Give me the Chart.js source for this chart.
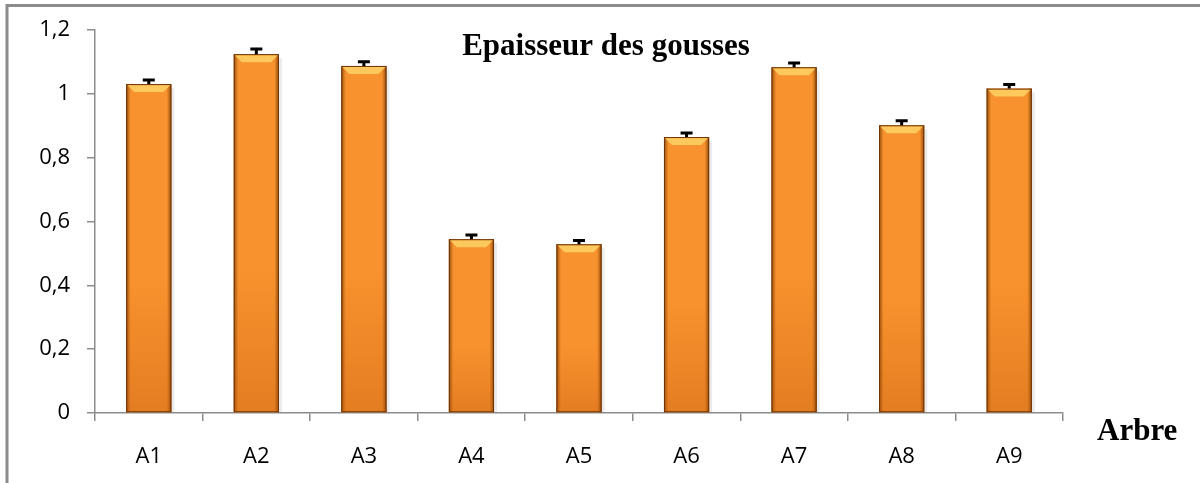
<!doctype html>
<html>
<head>
    <title>Epaisseur des gousses</title>
    <script src="https://cdn.jsdelivr.net/npm/chart.js@4/dist/chart.umd.min.js"></script>
    <style>
        html, body{
            margin: 0px;
            width: 100%;
            height: 100%;
            background: #fff;
        }
        #container{
            width: 1200px;
            height: 483px;
        }
    </style>
</head>
<body>
    <div id="container"><canvas id="canvas"></canvas></div>
    <script>
        var categories = ['A1', 'A2', 'A3', 'A4', 'A5', 'A6', 'A7', 'A8', 'A9'];
        var epaisseur = [1.031, 1.125, 1.088, 0.545, 0.529, 0.865, 1.084, 0.902, 1.017];
        var erreurs = [0.013, 0.016, 0.013, 0.013, 0.012, 0.013, 0.013, 0.014, 0.013];
        var yTicks = [0, 0.2, 0.4, 0.6, 0.8, 1, 1.2];

        var titleText = 'Epaisseur des gousses';
        var xTitleText = 'Arbre';

        var gray = '#8c8c8c';

        // frame round the picture (top and left only are visible)
        var framePlugin = {
            id: 'frame',
            beforeDraw: function(chart){
                var ctx = chart.ctx;
                ctx.save();
                ctx.strokeStyle = gray;
                ctx.lineWidth = 3;
                ctx.beginPath();
                ctx.moveTo(7, 483);
                ctx.lineTo(7, 5.5);
                ctx.lineTo(1200, 5.5);
                ctx.stroke();
                ctx.restore();
            }
        };

        // 3d look of the bars + error bars
        var barsPlugin = {
            id: 'barsLook',
            afterDatasetsDraw: function(chart){
                var ctx = chart.ctx;
                var meta = chart.getDatasetMeta(0);
                var yScale = chart.scales.y;
                ctx.save();
                meta.data.forEach(function(bar, i){
                    var left = bar.x - bar.width / 2;
                    var right = bar.x + bar.width / 2;
                    var top = bar.y;
                    var bottom = bar.base;

                    // soft shadow on the right
                    ctx.fillStyle = 'rgba(0,0,0,0.08)';
                    ctx.fillRect(right, top + 4, 3, bottom - top - 4);

                    // side shading
                    var g = ctx.createLinearGradient(left, 0, right, 0);
                    g.addColorStop(0, 'rgba(110,50,0,0.7)');
                    g.addColorStop(0.1, 'rgba(120,55,0,0.0)');
                    g.addColorStop(0.9, 'rgba(120,55,0,0.0)');
                    g.addColorStop(1, 'rgba(110,50,0,0.75)');
                    ctx.fillStyle = g;
                    ctx.fillRect(left, top, right - left, bottom - top);

                    // darker bottom
                    var gb = ctx.createLinearGradient(0, top, 0, bottom);
                    gb.addColorStop(0, 'rgba(200,90,10,0)');
                    gb.addColorStop(0.6, 'rgba(200,90,10,0)');
                    gb.addColorStop(1, 'rgba(190,85,10,0.35)');
                    ctx.fillStyle = gb;
                    ctx.fillRect(left, top, right - left, bottom - top);

                    // light bevel on top
                    ctx.fillStyle = 'rgba(255,210,100,0.85)';
                    ctx.beginPath();
                    ctx.moveTo(left + 1, top + 1);
                    ctx.lineTo(right - 1, top + 1);
                    ctx.lineTo(right - 8, top + 8);
                    ctx.lineTo(left + 8, top + 8);
                    ctx.closePath();
                    ctx.fill();

                    // outline
                    ctx.strokeStyle = '#6e3406';
                    ctx.lineWidth = 1;
                    ctx.strokeRect(left + 0.5, top + 0.5, right - left - 1, bottom - top - 1);

                    // error bar
                    var yErr = yScale.getPixelForValue(epaisseur[i] + erreurs[i]);
                    ctx.strokeStyle = '#000';
                    ctx.lineWidth = 3;
                    ctx.beginPath();
                    ctx.moveTo(bar.x, top);
                    ctx.lineTo(bar.x, yErr);
                    ctx.moveTo(bar.x - 6, yErr);
                    ctx.lineTo(bar.x + 6, yErr);
                    ctx.stroke();
                });
                ctx.restore();
            }
        };

        // titles placed over the plot like in the original
        var textPlugin = {
            id: 'texts',
            afterDraw: function(chart){
                var ctx = chart.ctx;
                ctx.save();
                ctx.fillStyle = '#000';
                ctx.font = 'bold 31px "Liberation Serif", "Times New Roman", serif';
                ctx.textAlign = 'center';
                ctx.textBaseline = 'alphabetic';
                ctx.fillText(titleText, 606, 55);
                ctx.textAlign = 'left';
                ctx.fillText(xTitleText, 1097, 440);
                ctx.restore();
            }
        };

        window.onload = function(){
            var ctx = document.getElementById('canvas').getContext('2d');
            window.myBar = new Chart(ctx, {
                type: 'bar',
                data: {
                    labels: categories,
                    datasets: [{
                        label: titleText,
                        data: epaisseur,
                        backgroundColor: '#f7922e',
                        borderWidth: 0,
                        barPercentage: 0.42,
                        categoryPercentage: 1
                    }]
                },
                plugins: [framePlugin, barsPlugin, textPlugin],
                options: {
                    responsive: true,
                    maintainAspectRatio: false,
                    animation: false,
                    layout: {
                        padding: { top: 30, right: 137, left: 0, bottom: 0 }
                    },
                    plugins: {
                        legend: { display: false },
                        title: { display: false },
                        tooltip: { enabled: false }
                    },
                    scales: {
                        x: {
                            afterFit: function(s){ s.height = 70; },
                            grid: {
                                offset: true,
                                drawOnChartArea: false,
                                drawTicks: true,
                                tickLength: 8,
                                color: gray,
                                lineWidth: 1.5
                            },
                            border: { display: true, color: gray, width: 1.5 },
                            ticks: {
                                padding: 23,
                                color: '#000',
                                font: { family: '"Open Sans"', size: 22 }
                            }
                        },
                        y: {
                            min: 0,
                            max: 1.2,
                            afterFit: function(s){ s.width = 95; },
                            afterBuildTicks: function(s){
                                s.ticks = yTicks.map(function(v){ return { value: v }; });
                            },
                            grid: {
                                drawOnChartArea: false,
                                drawTicks: true,
                                tickLength: 8,
                                color: gray,
                                lineWidth: 1.5
                            },
                            border: { display: true, color: gray, width: 1.5 },
                            ticks: {
                                padding: 17,
                                color: '#000',
                                font: { family: '"Open Sans"', size: 22 },
                                callback: function(v){ return String(v).replace('.', ','); }
                            }
                        }
                    }
                }
            });
        };
    </script>
</body>
</html>
